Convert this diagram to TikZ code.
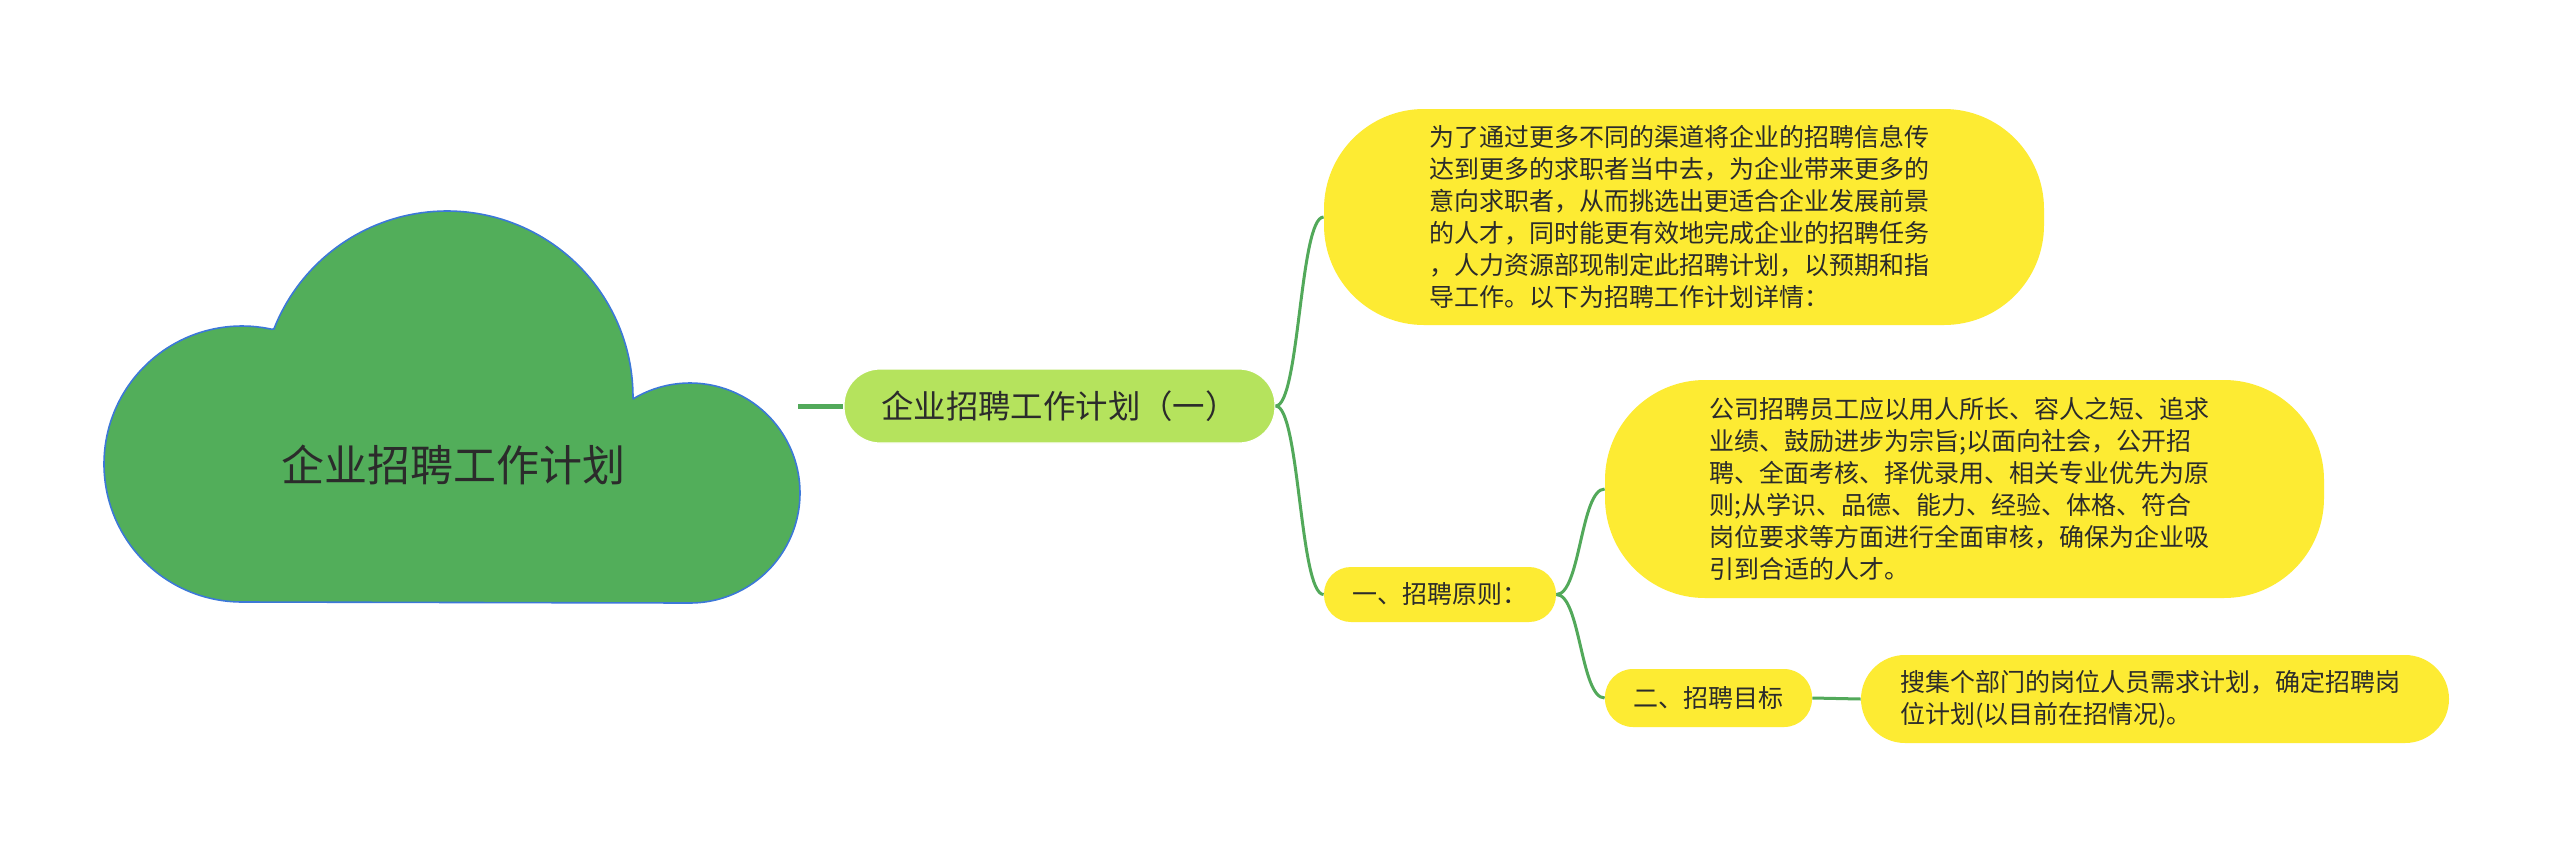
\documentclass[tikz,border=0pt]{standalone}
\usepackage{fontspec}
\setmainfont{Noto Sans CJK SC}
\definecolor{cloudfill}{HTML}{52AE5A}
\definecolor{cloudline}{HTML}{3C78D8}
\definecolor{mainfill}{HTML}{B5E35D}
\definecolor{yel}{HTML}{FDEB33}
\definecolor{conn}{HTML}{52A95A}
\definecolor{txt}{HTML}{2B2B2B}
\tikzset{
  ynode/.style={fill=yel, draw=none, inner sep=0pt, text=txt, font=\fontsize{12.5pt}{16pt}\selectfont},
  mainnode/.style={fill=mainfill, draw=white, line width=0.6pt, inner sep=0pt, text=txt, font=\fontsize{16.2pt}{18pt}\selectfont},
  link/.style={draw=conn, line width=1.5pt},
  cloudshape/.style={fill=cloudfill, draw=cloudline, line width=0.8pt, line join=miter}
}
\begin{document}
\begin{tikzpicture}[x=0.5pt, y=-0.5pt]
\useasboundingbox[fill=white] (0,0) rectangle (2560,852);
% cloud: union of three circular bumps with a flat base
\draw[cloudshape] plot[domain=158.5:0, samples=90] ({447+186*cos(\x)}, {397-186*sin(\x)})
  -- plot[domain=121:-90, samples=90] ({690+110*cos(\x)}, {493-110*sin(\x)})
  -- plot[domain=270:77.5, samples=90] ({242+138*cos(\x)}, {464-138*sin(\x)}) -- cycle;
\node[text=txt, font=\fontsize{21.5pt}{24pt}\selectfont] (root) at (453,465) {企业招聘工作计划};
\coordinate (rootr) at (798,406);
% main branch
\node[mainnode, minimum width=215.5pt, minimum height=37pt, rounded corners=18pt] (main) at (1059.5,406) {企业招聘工作计划（一）};
% top text node
\node[ynode, minimum width=360pt, minimum height=108pt, rounded corners=50pt, text width=255pt, align=left] (intro) at (1684,217) {为了通过更多不同的渠道将企业的招聘信息传\\达到更多的求职者当中去，为企业带来更多的\\意向求职者，从而挑选出更适合企业发展前景\\的人才，同时能更有效地完成企业的招聘任务\\，人力资源部现制定此招聘计划，以预期和指\\导工作。以下为招聘工作计划详情：};
% principle
\node[ynode, minimum width=116pt, minimum height=27.5pt, rounded corners=13.5pt] (p1) at (1440,594.5) {一、招聘原则：};
\node[ynode, minimum width=359.5pt, minimum height=109pt, rounded corners=50pt, text width=255pt, align=left] (p1t) at (1964.5,489) {公司招聘员工应以用人所长、容人之短、追求\\业绩、鼓励进步为宗旨;以面向社会，公开招\\聘、全面考核、择优录用、相关专业优先为原\\则;从学识、品德、能力、经验、体格、符合\\岗位要求等方面进行全面审核，确保为企业吸\\引到合适的人才。};
% goal
\node[ynode, minimum width=103.5pt, minimum height=29pt, rounded corners=14pt] (p2) at (1708.5,698) {二、招聘目标};
\node[ynode, minimum width=294pt, minimum height=44pt, rounded corners=22pt, text width=255pt, align=left] (p2t) at (2155,699) {搜集个部门的岗位人员需求计划，确定招聘岗\\位计划(以目前在招情况)。};
% connectors
\draw[link, line width=2.5pt] (rootr) -- (main.west);
\draw[link] (main.east) .. controls +(12pt,0) and +(-12pt,0) .. (intro.west);
\draw[link] (main.east) .. controls +(12pt,0) and +(-12pt,0) .. (p1.west);
\draw[link] (p1.east) .. controls +(12pt,0) and +(-12pt,0) .. (p1t.west);
\draw[link] (p1.east) .. controls +(12pt,0) and +(-12pt,0) .. (p2.west);
\draw[link] (p2.east) -- (p2t.west);
\end{tikzpicture}
\end{document}
